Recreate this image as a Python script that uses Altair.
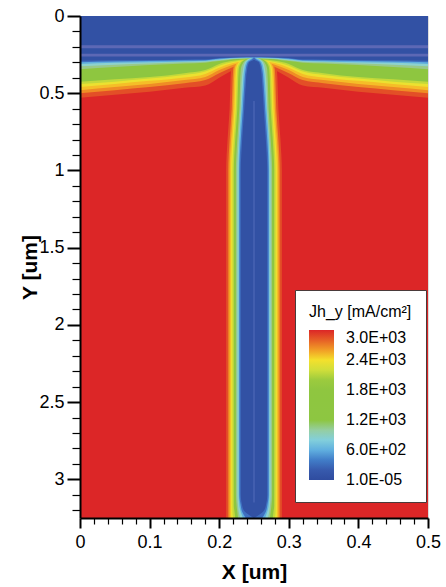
import altair as alt
import pandas as pd

# ---------------- data ----------------
X_DOMAIN = [0.0, 0.5]
Y_DOMAIN = [0.0, 3.25]
CHANNEL_CENTER = 0.25

# colour map (value -> colour)
cmap_values = [0, 150, 350, 550, 750, 900, 1050, 1200, 1950, 2100, 2250, 2400, 2550, 2700, 2850, 3000]
cmap_colors = ["#2f4c9f", "#3453a6", "#3f6fc0", "#58a6dc", "#7fcbe9", "#9ed3c3", "#99c98c", "#8dc641",
               "#8fc640", "#b6d53c", "#dde23a", "#f4e02c", "#f3ad2a", "#eb7c26", "#e34f27", "#dc2627"]

legend_values = [0.001, 600, 1200, 1800, 2400, 3000]
legend_labels = ["1.0E-05", "6.0E+02", "1.2E+03", "1.8E+03", "2.4E+03", "3.0E+03"]

x_major = [0, 0.1, 0.2, 0.3, 0.4, 0.5]
x_minor = [0.02, 0.04, 0.06, 0.08, 0.12, 0.14, 0.16, 0.18, 0.22, 0.24, 0.26, 0.28,
           0.32, 0.34, 0.36, 0.38, 0.42, 0.44, 0.46, 0.48]
y_major = [0, 0.5, 1, 1.5, 2, 2.5, 3]
y_minor = [0.1, 0.2, 0.3, 0.4, 0.6, 0.7, 0.8, 0.9, 1.1, 1.2, 1.3, 1.4, 1.6, 1.7, 1.8, 1.9,
           2.1, 2.2, 2.3, 2.4, 2.6, 2.7, 2.8, 2.9, 3.1, 3.2]

background_value = 3000

# contour bands (value of each band, drawn from the outermost to the innermost)
band_values = [2850, 2650, 2500, 2350, 2150, 1600, 1050, 850, 600, 350, 100]

# upper layer: depth (y, um) of the lower edge of each band along x (left half, mirrored)
wing_x = [0.0, 0.05, 0.10, 0.15, 0.18, 0.20, 0.22, 0.24, 0.25]
wing_y = {
    2850: [0.530, 0.510, 0.490, 0.465, 0.450, 0.400, 0.350, 0.310, 0.300],
    2650: [0.500, 0.480, 0.460, 0.435, 0.415, 0.370, 0.330, 0.300, 0.295],
    2500: [0.480, 0.460, 0.440, 0.415, 0.395, 0.350, 0.315, 0.295, 0.290],
    2350: [0.460, 0.440, 0.420, 0.398, 0.375, 0.335, 0.305, 0.290, 0.286],
    2150: [0.440, 0.425, 0.405, 0.382, 0.360, 0.322, 0.298, 0.285, 0.282],
    1600: [0.425, 0.410, 0.395, 0.370, 0.350, 0.310, 0.290, 0.280, 0.278],
    1050: [0.345, 0.330, 0.318, 0.308, 0.302, 0.292, 0.280, 0.275, 0.274],
    850:  [0.325, 0.316, 0.308, 0.300, 0.296, 0.287, 0.277, 0.273, 0.272],
    600:  [0.310, 0.303, 0.300, 0.294, 0.291, 0.282, 0.274, 0.270, 0.270],
    350:  [0.300, 0.295, 0.292, 0.288, 0.286, 0.277, 0.270, 0.268, 0.268],
    100:  [0.290, 0.287, 0.285, 0.283, 0.282, 0.272, 0.268, 0.265, 0.265],
}

# vertical channel: half width (um) of each band along depth y
channel_y = [0.265, 0.28, 0.30, 0.35, 0.45, 0.60, 0.80, 1.00, 3.10, 3.17, 3.21, 3.25]
channel_w = {
    2850: [0.012, 0.022, 0.029, 0.033, 0.034, 0.035, 0.038, 0.040, 0.040, 0.040, 0.040, 0.040],
    2650: [0.010, 0.019, 0.026, 0.030, 0.031, 0.032, 0.035, 0.037, 0.037, 0.037, 0.037, 0.037],
    2500: [0.009, 0.017, 0.024, 0.028, 0.029, 0.030, 0.033, 0.035, 0.035, 0.035, 0.035, 0.035],
    2350: [0.008, 0.015, 0.022, 0.026, 0.027, 0.028, 0.031, 0.033, 0.033, 0.033, 0.033, 0.033],
    2150: [0.007, 0.013, 0.020, 0.024, 0.025, 0.026, 0.029, 0.031, 0.031, 0.031, 0.031, 0.030],
    1600: [0.006, 0.012, 0.018, 0.022, 0.023, 0.024, 0.027, 0.029, 0.029, 0.029, 0.028, 0.027],
    1050: [0.004, 0.010, 0.015, 0.019, 0.020, 0.021, 0.024, 0.026, 0.026, 0.025, 0.024, 0.023],
    850:  [0.002, 0.008, 0.013, 0.016, 0.018, 0.019, 0.022, 0.024, 0.024, 0.023, 0.022, 0.020],
    600:  [0.000, 0.006, 0.011, 0.014, 0.016, 0.018, 0.021, 0.022, 0.022, 0.021, 0.019, 0.016],
    350:  [0.000, 0.003, 0.009, 0.012, 0.014, 0.016, 0.019, 0.021, 0.021, 0.019, 0.017, 0.012],
    100:  [0.000, 0.000, 0.007, 0.010, 0.012, 0.014, 0.017, 0.019, 0.019, 0.017, 0.013, 0.000],
}

# faint mesh lines in the blue top layer and along the channel centre
hstripe_y0 = [0.190, 0.245]
hstripe_y1 = [0.208, 0.262]
vstripe_x0 = [0.2485]
vstripe_x1 = [0.2515]
vstripe_y0 = [0.55]
vstripe_y1 = [3.15]

# ---------------- tables ----------------
wing_rows = []
for b in band_values:
    ys = wing_y[b]
    xs_full = wing_x + [X_DOMAIN[1] - x for x in reversed(wing_x[:-1])]
    ys_full = ys + list(reversed(ys[:-1]))
    for x, y in zip(xs_full, ys_full):
        wing_rows.append({"band": b, "x": x, "y": y, "v": b})
wing_df = pd.DataFrame(wing_rows)

ch_rows = []
for b in band_values:
    for y, w in zip(channel_y, channel_w[b]):
        ch_rows.append({"band": b, "y": y, "xl": CHANNEL_CENTER - w, "xr": CHANNEL_CENTER + w, "v": b})
ch_df = pd.DataFrame(ch_rows)

bg_df = pd.DataFrame({"x0": [X_DOMAIN[0]], "x1": [X_DOMAIN[1]], "y0": [Y_DOMAIN[0]], "y1": [Y_DOMAIN[1]],
                      "v": [background_value]})
hs_df = pd.DataFrame({"x0": [X_DOMAIN[0]] * len(hstripe_y0), "x1": [X_DOMAIN[1]] * len(hstripe_y0),
                      "y0": hstripe_y0, "y1": hstripe_y1})
vs_df = pd.DataFrame({"x0": vstripe_x0, "x1": vstripe_x1, "y0": vstripe_y0, "y1": vstripe_y1})

# ---------------- encodings ----------------
FONT = "Liberation Sans"
xs = alt.Scale(domain=X_DOMAIN, nice=False, zero=False)
ys_ = alt.Scale(domain=Y_DOMAIN, nice=False, zero=False, reverse=True)

label_expr = ""
for val, lab in zip(legend_values, legend_labels):
    label_expr += f"datum.value == {val} ? '{lab}' : "
label_expr += "''"

color_enc = alt.Color(
    "v:Q",
    scale=alt.Scale(domain=cmap_values, range=cmap_colors, type="linear"),
    legend=alt.Legend(
        title="Jh_y [mA/cm²]", orient="none", legendX=215, legendY=274,
        direction="vertical", values=legend_values, labelExpr=label_expr,
        gradientLength=150, gradientThickness=25, gradientStrokeWidth=0,
        fillColor="white", strokeColor="#4a3a3a", padding=14,
        titleFontSize=16, titleFontWeight="normal", titleFont=FONT, titleColor="black",
        titlePadding=10, labelFontSize=16, labelFont=FONT, labelColor="black", labelOffset=12,
    ),
)

major_x_axis = alt.Axis(values=x_major, format="~g", title="X [um]", orient="bottom",
                        tickSize=10, tickWidth=2, tickColor="black", domainWidth=2, domainColor="black",
                        labelFontSize=18, labelFont=FONT, labelColor="black", labelPadding=5, labelFlush=False,
                        titleFontSize=21, titleFont=FONT, titleFontWeight="bold", titleColor="black",
                        titlePadding=10, grid=False, zindex=2)
major_y_axis = alt.Axis(values=y_major, format="~g", title="Y [um]", orient="left",
                        tickSize=13, tickWidth=2, tickColor="black", domainWidth=2, domainColor="black",
                        labelFontSize=18, labelFont=FONT, labelColor="black", labelPadding=3, labelFlush=False,
                        titleFontSize=21, titleFont=FONT, titleFontWeight="bold", titleColor="black",
                        titlePadding=-2, grid=False, zindex=2)
minor_x_axis = alt.Axis(values=x_minor, labels=False, title=None, orient="bottom", domain=False,
                        tickSize=6, tickWidth=1.2, tickColor="black", grid=False, zindex=2)
minor_y_axis = alt.Axis(values=y_minor, labels=False, title=None, orient="left", domain=False,
                        tickSize=8, tickWidth=1.2, tickColor="black", grid=False, zindex=2)

layers = []
bg = alt.Chart(bg_df).mark_rect().encode(
    x=alt.X("x0:Q", scale=xs, axis=major_x_axis),
    x2="x1:Q",
    y=alt.Y("y0:Q", scale=ys_, axis=major_y_axis),
    y2="y1:Q",
    color=color_enc,
)
layers.append(bg)

for b in band_values:
    wing = alt.Chart(wing_df).transform_filter(alt.datum.band == b).mark_area(
        interpolate="monotone"
    ).encode(
        x=alt.X("x:Q", scale=xs, axis=None),
        y=alt.Y("y:Q", scale=ys_, axis=None, stack=None),
        y2=alt.value(0),
        color=color_enc,
    )
    chan = alt.Chart(ch_df).transform_filter(alt.datum.band == b).mark_area(
        orient="horizontal", interpolate="monotone"
    ).encode(
        y=alt.Y("y:Q", scale=ys_, axis=None),
        x=alt.X("xl:Q", scale=xs, axis=None, stack=None),
        x2="xr:Q",
        color=color_enc,
    )
    layers += [wing, chan]

hs = alt.Chart(hs_df).mark_rect(color="#6b70bb", opacity=0.75).encode(
    x=alt.X("x0:Q", scale=xs, axis=minor_x_axis),
    x2="x1:Q",
    y=alt.Y("y0:Q", scale=ys_, axis=minor_y_axis),
    y2="y1:Q",
)
vs = alt.Chart(vs_df).mark_rect(color="#4d68b8", opacity=0.6).encode(
    x=alt.X("x0:Q", scale=xs, axis=None),
    x2="x1:Q",
    y=alt.Y("y0:Q", scale=ys_, axis=None),
    y2="y1:Q",
)
layers += [hs, vs]

chart = alt.layer(*layers).resolve_axis(x="independent", y="independent").properties(
    width=348, height=502,
    padding={"left": 80, "top": 16, "right": 18, "bottom": 69},
    autosize=alt.AutoSizeParams(type="none"),
    background="white",
).configure_view(stroke=None).configure(font=FONT)

chart.save("out.html", embed_options={"renderer": "svg", "actions": False})
